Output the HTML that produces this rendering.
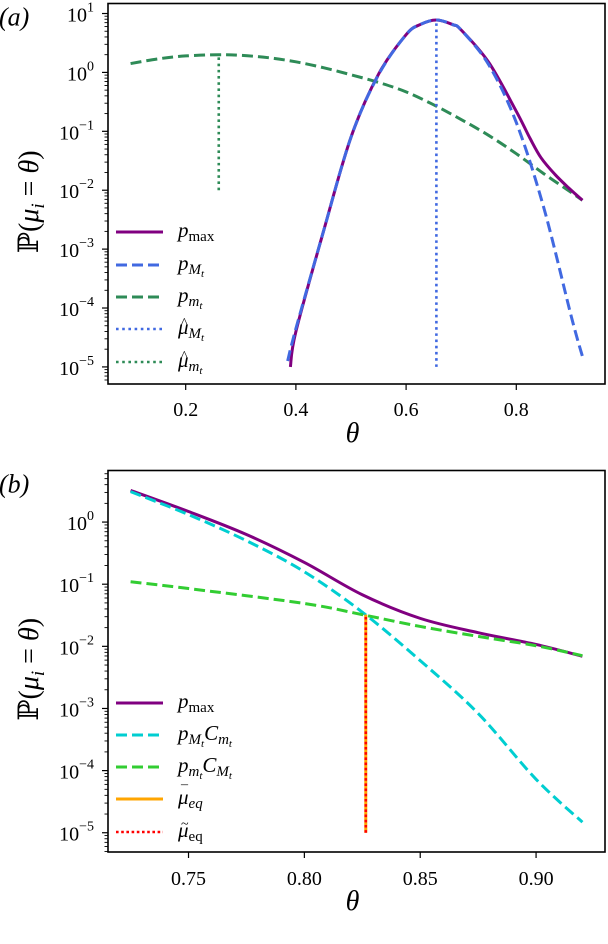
<!DOCTYPE html>
<html><head><meta charset="utf-8"><style>
html,body{margin:0;padding:0;background:#fff;}
svg{display:block;}
text{font-family:"Liberation Serif","DejaVu Serif",serif;fill:#000;}
</style></head><body>
<svg id="fig" width="608" height="944" viewBox="0 0 608 944" xmlns="http://www.w3.org/2000/svg"></svg>
<script>
// ---------- Panel (a) data (log10 values) ----------
const aPMaxX = [0.39,0.4,0.45,0.5,0.55,0.6,0.625,0.655,0.685,0.7,0.75,0.8,0.825,0.845,0.87,0.895,0.92];
const aPMaxY = [-5.0,-4.4,-2.7,-1.1,-0.03,0.64,0.81,0.89,0.81,0.72,0.17,-0.66,-1.12,-1.45,-1.73,-1.96,-2.17];
const aPMX = [0.385,0.4,0.45,0.5,0.55,0.6,0.625,0.655,0.685,0.7,0.75,0.8,0.85,0.9,0.92];
const aPMY = [-4.9,-4.35,-2.7,-1.1,-0.04,0.64,0.81,0.89,0.81,0.72,0.13,-0.85,-2.3,-4.15,-4.82];
const aPmX = [0.1,0.15,0.2,0.26,0.3,0.35,0.4,0.45,0.5,0.55,0.6,0.65,0.7,0.75,0.8,0.85,0.9,0.92];
const aPmY = [0.15,0.23,0.28,0.3,0.29,0.25,0.18,0.08,-0.04,-0.17,-0.33,-0.55,-0.8,-1.07,-1.38,-1.72,-2.04,-2.17];
const aMuM = 0.655, aMuMLo = -5, aMuMHi = 0.88;
const aMum = 0.26, aMumLo = -2, aMumHi = 0.3;
const aXTicks = [0.2,0.4,0.6,0.8];
const aXTickLabels = ["0.2","0.4","0.6","0.8"];
const aYTicks = [1,0,-1,-2,-3,-4,-5];
// ---------- Panel (b) data ----------
const bPMaxX = [0.725,0.75,0.775,0.8,0.825,0.85,0.875,0.9,0.92];
const bPMaxY = [0.51,0.17,-0.2,-0.65,-1.17,-1.55,-1.78,-1.97,-2.16];
const bCyX = [0.725,0.75,0.775,0.8,0.825,0.85,0.875,0.9,0.92];
const bCyY = [0.49,0.12,-0.3,-0.8,-1.45,-2.23,-3.08,-4.14,-4.83];
const bGrX = [0.725,0.75,0.8,0.825,0.85,0.875,0.9,0.92];
const bGrY = [-0.96,-1.07,-1.31,-1.49,-1.68,-1.84,-1.99,-2.15];
const bMuEq = 0.8265, bMuLo = -5, bMuHi = -1.49;
const bXTicks = [0.75,0.80,0.85,0.90];
const bXTickLabels = ["0.75","0.80","0.85","0.90"];
const bYTicks = [0,-1,-2,-3,-4,-5];

const NS = "http://www.w3.org/2000/svg";
const fig = document.getElementById('fig');
function mk(tag, attrs, parent){
  const e = document.createElementNS(NS, tag);
  for (const k in attrs) e.setAttribute(k, attrs[k]);
  (parent||fig).appendChild(e); return e;
}

function panel(cfg){
  const g = mk('g', {});
  
  
  const L=cfg.L,R=cfg.R,T=cfg.T,B=cfg.B;
  const sx = v => L + (v-cfg.x0)/(cfg.x1-cfg.x0)*(R-L);
  const sy = v => T + (cfg.y1-v)/(cfg.y1-cfg.y0)*(B-T);
  cfg.sx=sx; cfg.sy=sy;
  const cp = mk('clipPath', {id:cfg.name+'-clip'}, g);
  mk('rect',{x:L,y:T,width:R-L,height:B-T},cp);
  const plot = mk('g', {'clip-path':'url(#'+cfg.name+'-clip)'}, g);
  cfg.plot = plot;
  cfg.xt.forEach((v,i)=>{
    const t = mk('line',{x1:sx(v),x2:sx(v),y1:B,y2:B+6,stroke:'#000','stroke-width':1.2},g);
    
    
    const tx = mk('text',{x:sx(v),y:cfg.xly,'text-anchor':'middle','font-size':20},g);
    tx.textContent = cfg.xtl[i];
    
    
  });
  cfg.yt.forEach(v=>{
    const y = sy(v);
    const t = mk('line',{x1:L-6,x2:L,y1:y,y2:y,stroke:'#000','stroke-width':1.2},g);
    
    
    const tx = mk('text',{x:L-14,y:y+8,'text-anchor':'end','font-size':20},g);
    tx.textContent = '10';
    
    
    const sp = mk('tspan',{dy:-10,'font-size':14},tx);
    sp.textContent = v<0 ? '\u2212'+(-v) : String(v);
  });
  for (let d=Math.floor(cfg.y0); d<cfg.y1; d++){
    for (let k=2;k<10;k++){
      const v = d+Math.log10(k);
      if (v<cfg.y0||v>cfg.y1) continue;
      const y=sy(v);
      mk('line',{x1:L-3.5,x2:L,y1:y,y2:y,stroke:'#000','stroke-width':0.9},g);
    }
  }
  const fr = mk('rect',{x:L,y:T,width:R-L,height:B-T,fill:'none',stroke:'#000','stroke-width':1.6},g);
  
  
  const xl = mk('text',{x:(L+R)/2-4,y:cfg.xty,'text-anchor':'middle','font-size':28,'font-style':'italic'},g);
  xl.textContent='θ';
  
  
  const cy=(T+B)/2+8;
  const yl = mk('text',{x:0,y:0,'text-anchor':'middle','font-size':28,transform:'translate(38,'+cy+') rotate(-90)'},g);
  
  
  yl.textContent='ℙ(';
  const m1=mk('tspan',{'font-style':'italic'},yl); m1.textContent='μ';
  const m2=mk('tspan',{'font-style':'italic','font-size':19,dy:6},yl); m2.textContent='i';
  const m3=mk('tspan',{dy:-6},yl); m3.textContent=' = ';
  const m4=mk('tspan',{'font-style':'italic'},yl); m4.textContent='θ';
  const m5=mk('tspan',{},yl); m5.textContent=')';
  const pl = mk('text',{x:-1,y:cfg.T+22,'font-size':26,'font-style':'italic'});
  pl.textContent = cfg.tag;
  
  
  return cfg;
}

function series(cfg, xs, ys, style, name){
  const P = xs.map((x,i)=>[cfg.sx(x), cfg.sy(ys[i])]);
  let d = 'M'+P[0][0].toFixed(2)+' '+P[0][1].toFixed(2);
  for (let i=0;i<P.length-1;i++){
    const p0=P[Math.max(0,i-1)], p1=P[i], p2=P[i+1], p3=P[Math.min(P.length-1,i+2)];
    const c1=[p1[0]+(p2[0]-p0[0])/6, p1[1]+(p2[1]-p0[1])/6];
    const c2=[p2[0]-(p3[0]-p1[0])/6, p2[1]-(p3[1]-p1[1])/6];
    d += ' C'+c1[0].toFixed(2)+' '+c1[1].toFixed(2)+' '+c2[0].toFixed(2)+' '+c2[1].toFixed(2)+' '+p2[0].toFixed(2)+' '+p2[1].toFixed(2);
  }
  const p = mk('path',Object.assign({d:d,fill:'none','stroke-linejoin':'round'},style),cfg.plot);
  
  
}
function vline(cfg, x, lo, hi, style, name){
  const p = mk('line',Object.assign({x1:cfg.sx(x),x2:cfg.sx(x),y1:cfg.sy(lo),y2:cfg.sy(hi)},style),cfg.plot);
  
  
}
function legend(x0, ys, entries){
  const g = mk('g',{});
  
  
  entries.forEach((e,i)=>{
    const y=ys[i];
    const ln = mk('line',Object.assign({x1:x0,x2:x0+47,y1:y,y2:y},e.style),g);
    
    
    const t = mk('text',{x:x0+62,y:y+5,'font-size':21},g);
    
    
    e.parts.forEach(pt=>{
      const s = mk('tspan',pt.a||{},t); s.textContent = pt.t;
    });
    if (e.acc){
      const a = mk('text',{x:x0+65,y:y+(e.accDy||0),'font-size':14},g);
      a.textContent = e.acc;
    }
  });
}

const purple={stroke:'#800080','stroke-width':3};
const blueD={stroke:'#4169e1','stroke-width':3,'stroke-dasharray':'11 5'};
const greenD={stroke:'#2e8b57','stroke-width':3,'stroke-dasharray':'11 5'};
const blueDot={stroke:'#4169e1','stroke-width':2.6,'stroke-dasharray':'2.6 3.6'};
const greenDot={stroke:'#2e8b57','stroke-width':2.6,'stroke-dasharray':'2.6 3.6'};
const cyanD={stroke:'#00ced1','stroke-width':3,'stroke-dasharray':'11 5'};
const limeD={stroke:'#32cd32','stroke-width':3,'stroke-dasharray':'11 5'};
const orange={stroke:'#ffa500','stroke-width':3};
const redDot={stroke:'#ff0000','stroke-width':2.6,'stroke-dasharray':'2.6 2.6'};

const A = panel({name:'panel-a',tag:'(a)',L:108,R:605,T:3.5,B:384,x0:0.059,x1:0.961,y0:-5.29,y1:1.17,
  xt:aXTicks,xtl:aXTickLabels,yt:aYTicks,xly:416,xty:442});
series(A,aPmX,aPmY,greenD,'line-p-m');
series(A,aPMaxX,aPMaxY,purple,'line-p-max');
series(A,aPMX,aPMY,blueD,'line-p-M');
vline(A,aMuM,aMuMLo,aMuMHi,blueDot,'vline-mu-hat-M');
vline(A,aMum,aMumLo,aMumHi,greenDot,'vline-mu-hat-m');
legend(116,[232,265,297,329,362],[
  {style:purple,parts:[{t:'p',a:{'font-style':'italic'}},{t:'max',a:{'font-size':15,dy:4}}]},
  {style:blueD,parts:[{t:'p',a:{'font-style':'italic'}},{t:'M',a:{'font-style':'italic','font-size':15,dy:4}},{t:'t',a:{'font-style':'italic','font-size':11,dy:3}}]},
  {style:greenD,parts:[{t:'p',a:{'font-style':'italic'}},{t:'m',a:{'font-style':'italic','font-size':15,dy:4}},{t:'t',a:{'font-style':'italic','font-size':11,dy:3}}]},
  {style:blueDot,acc:'^',accDy:-2,parts:[{t:'μ',a:{'font-style':'italic'}},{t:'M',a:{'font-style':'italic','font-size':15,dy:4}},{t:'t',a:{'font-style':'italic','font-size':11,dy:3}}]},
  {style:greenDot,acc:'^',accDy:-2,parts:[{t:'μ',a:{'font-style':'italic'}},{t:'m',a:{'font-style':'italic','font-size':15,dy:4}},{t:'t',a:{'font-style':'italic','font-size':11,dy:3}}]}
]);

const Bp = panel({name:'panel-b',tag:'(b)',L:108,R:605,T:470.5,B:852,x0:0.71525,x1:0.92975,y0:-5.31,y1:0.83,
  xt:bXTicks,xtl:bXTickLabels,yt:bYTicks,xly:885,xty:910});
series(Bp,bPMaxX,bPMaxY,purple,'line-p-max-b');
series(Bp,bCyX,bCyY,cyanD,'line-p-M-C-m');
series(Bp,bGrX,bGrY,limeD,'line-p-m-C-M');
vline(Bp,bMuEq,bMuLo,bMuHi,orange,'vline-mu-bar-eq');
vline(Bp,bMuEq,bMuLo,bMuHi,redDot,'vline-mu-tilde-eq');
legend(116,[703,735,767,799,832],[
  {style:purple,parts:[{t:'p',a:{'font-style':'italic'}},{t:'max',a:{'font-size':15,dy:4}}]},
  {style:cyanD,parts:[{t:'p',a:{'font-style':'italic'}},{t:'M',a:{'font-style':'italic','font-size':15,dy:4}},{t:'t',a:{'font-style':'italic','font-size':11,dy:3}},{t:'C',a:{'font-style':'italic',dy:-7}},{t:'m',a:{'font-style':'italic','font-size':15,dy:4}},{t:'t',a:{'font-style':'italic','font-size':11,dy:3}}]},
  {style:limeD,parts:[{t:'p',a:{'font-style':'italic'}},{t:'m',a:{'font-style':'italic','font-size':15,dy:4}},{t:'t',a:{'font-style':'italic','font-size':11,dy:3}},{t:'C',a:{'font-style':'italic',dy:-7}},{t:'M',a:{'font-style':'italic','font-size':15,dy:4}},{t:'t',a:{'font-style':'italic','font-size':11,dy:3}}]},
  {style:orange,acc:'¯',accDy:-4,parts:[{t:'μ',a:{'font-style':'italic'}},{t:'eq',a:{'font-style':'italic','font-size':15,dy:4}}]},
  {style:redDot,acc:'~',accDy:-4,parts:[{t:'μ',a:{'font-style':'italic'}},{t:'eq',a:{'font-size':15,dy:4}}]}
]);
</script>
</body></html>
